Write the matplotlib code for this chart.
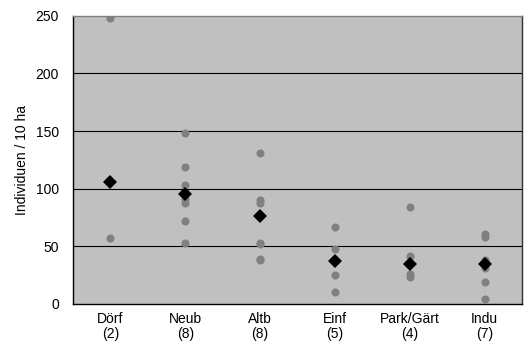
import matplotlib
matplotlib.use("Agg")
import matplotlib.pyplot as plt
import numpy as np

plt.rcParams['font.family'] = ['Liberation Sans', 'DejaVu Sans']

categories = ["Dörf\n(2)", "Neub\n(8)", "Altb\n(8)", "Einf\n(5)", "Park/Gärt\n(4)", "Indu\n(7)"]
points_dorf = [248, 57]
points_neub = [148, 119, 103, 96, 91, 88, 72, 53]
points_altb = [131, 90, 88, 76, 53, 52, 39, 38]
points_einf = [67, 48, 37, 25, 10]
points_park = [84, 42, 26, 23]
points_indu = [61, 58, 38, 34, 31, 19, 4]
all_points = [points_dorf, points_neub, points_altb, points_einf, points_park, points_indu]
means = [106, 95, 76, 37.5, 35, 34.5]
yticks = [0, 50, 100, 150, 200, 250]

fig = plt.figure(figsize=(5.28, 3.45), dpi=100)
ax = fig.add_axes([0.138, 0.119, 0.851, 0.835])
ax.set_facecolor('#C0C0C0')

x = np.arange(len(categories))
for i, pts in enumerate(all_points):
    ax.plot([x[i]] * len(pts), pts, 'o', color='#808080', markersize=5.8, markeredgewidth=0, zorder=3)
ax.plot(x, means, 'D', color='black', markersize=7.5, markeredgewidth=0, zorder=4)

ax.set_xlim(-0.5, len(categories) - 0.5)
ax.set_ylim(0, 250)
ax.set_yticks(yticks)
ax.set_xticks(x)
ax.set_xticklabels(categories, linespacing=1.1)
ax.tick_params(axis='x', length=0, pad=6, labelsize=10)
ax.tick_params(axis='y', length=0, pad=10, labelsize=10)

for yv in [50, 100, 150, 200]:
    ax.axhline(yv, color='black', linewidth=0.8, zorder=1)

ax.spines['left'].set_color('black')
ax.spines['bottom'].set_color('black')
ax.spines['right'].set_color('#303030')
ax.spines['top'].set_color('#808080')
for s in ax.spines.values():
    s.set_linewidth(1.0)

ax.set_ylabel("Individuen / 10 ha", fontsize=10, labelpad=5)

fig.savefig("out.png", dpi=100)
